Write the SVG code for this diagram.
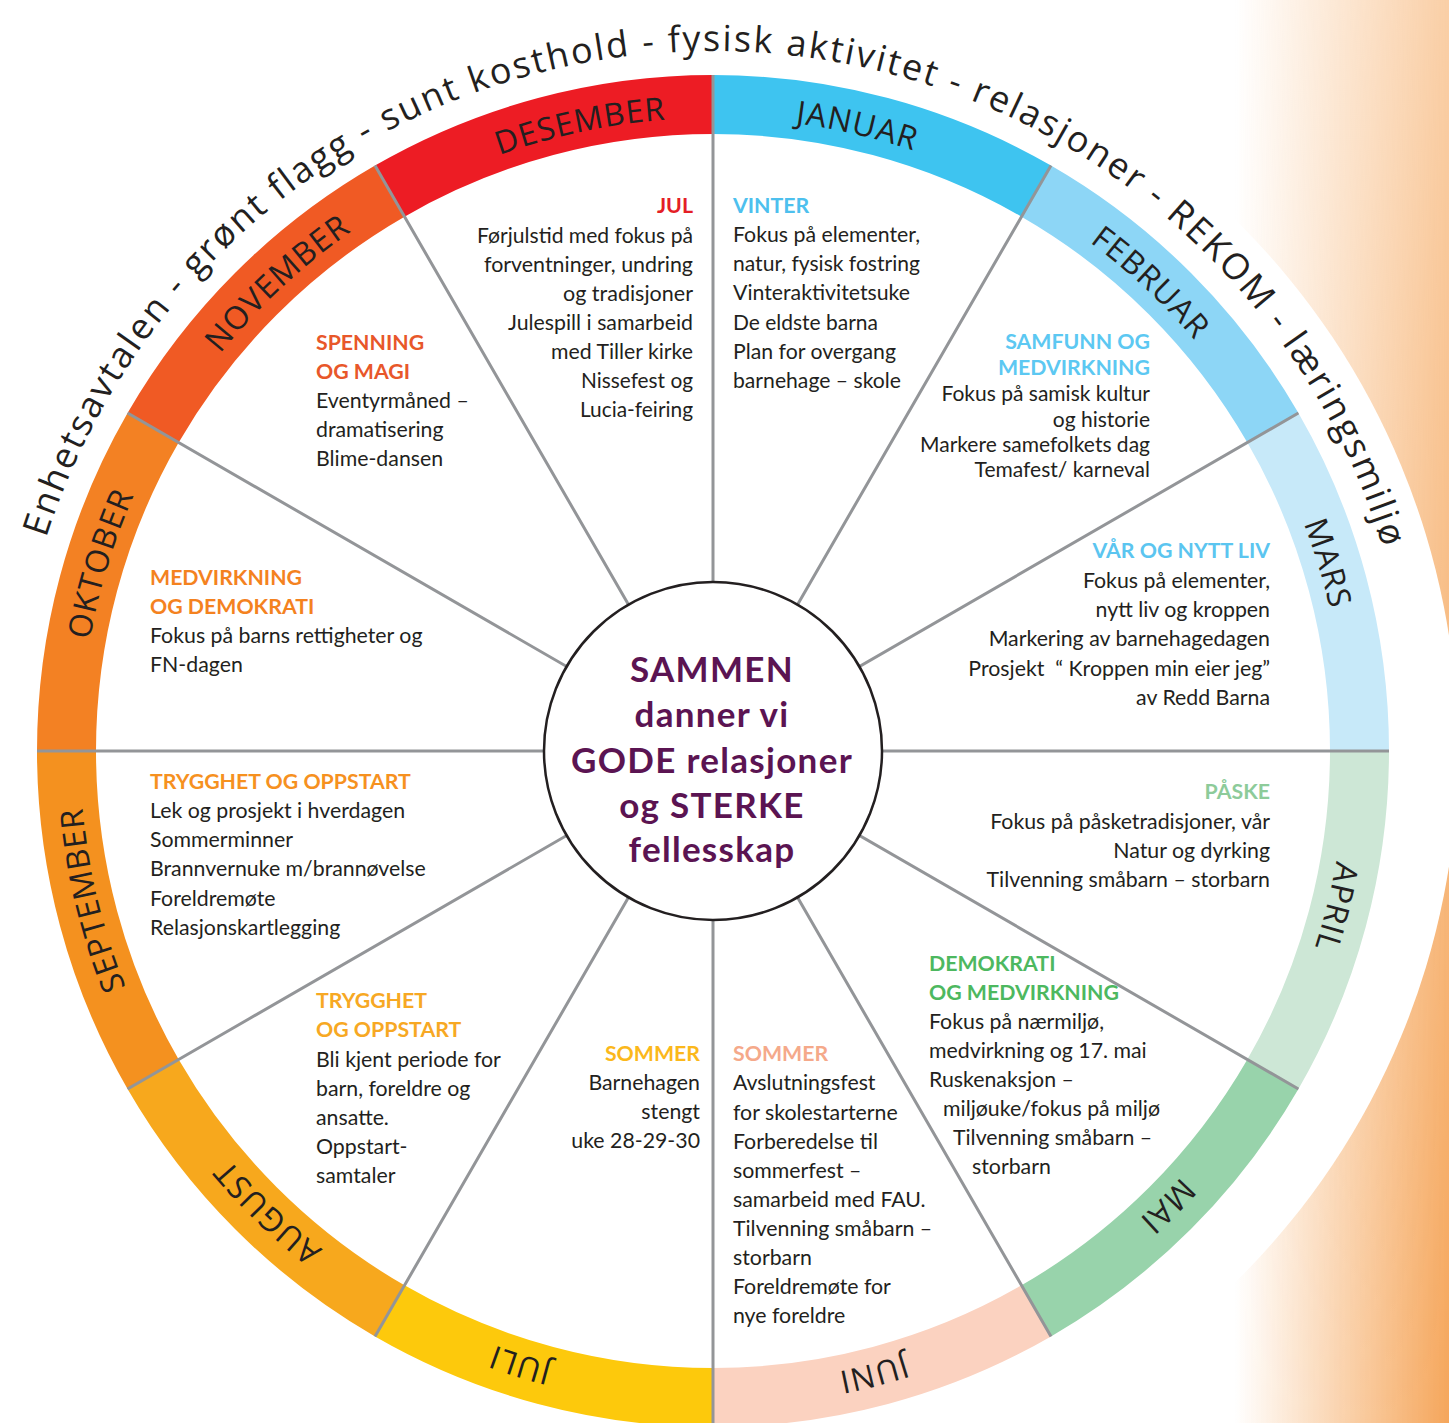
<svg xmlns="http://www.w3.org/2000/svg" width="1449" height="1423" viewBox="0 0 1449 1423">
<defs>
<linearGradient id="bgH" gradientUnits="userSpaceOnUse" x1="1235" y1="0" x2="1449" y2="0">
<stop offset="0" stop-color="#F5A65B" stop-opacity="0"/>
<stop offset="1" stop-color="#F5A65B"/>
</linearGradient>
<linearGradient id="bgV" gradientUnits="userSpaceOnUse" x1="0" y1="0" x2="0" y2="1423">
<stop offset="0" stop-color="#8a8a8a"/>
<stop offset="1" stop-color="#ffffff"/>
</linearGradient>
<mask id="bgM"><rect x="1200" y="0" width="249" height="1423" fill="url(#bgV)"/></mask>
<path id="arcTop" d="M 713 1451 A 700 700 0 1 1 713 51 A 700 700 0 1 1 713 1451"/>
<path id="arcMonth" d="M 713 1384 A 633 633 0 1 1 713 118 A 633 633 0 1 1 713 1384"/>
<style>
.t{font-family:Lato,"Open Sans",sans-serif;font-size:21.3px;fill:#231F20}
.s{font-size:21px}
.h{font-weight:700;font-size:21.3px}
.e{text-anchor:end}
.m{font-family:"Open Sans",sans-serif;font-size:32px;fill:#231F20;text-anchor:middle;letter-spacing:1px}
.top{font-family:"Open Sans",sans-serif;font-size:36px;fill:#231F20;letter-spacing:2.2px;text-anchor:middle}
.c{font-family:Lato,"Open Sans",sans-serif;font-weight:700;font-size:35px;fill:#5B1452;text-anchor:middle;letter-spacing:1.3px}
.div{stroke:#939598;stroke-width:3;fill:none}
</style>
</defs>
<rect width="1449" height="1423" fill="#fff"/>
<rect x="1200" y="0" width="249" height="1423" fill="url(#bgH)" mask="url(#bgM)"/>
<circle cx="713" cy="751" r="745" fill="#fff"/>

<text class="top"><textPath href="#arcTop" startOffset="2205">Enhetsavtalen - grønt flagg - sunt kosthold - fysisk aktivitet - relasjoner - REKOM - læringsmiljø</textPath></text>

<g id="seg-januar">
<path d="M713 75 A676 676 0 0 1 1051 165.57 L1021.5 216.66 A617 617 0 0 0 713 134 Z" fill="#3EC4F0"/>
<text class="m"><textPath href="#arcMonth" startOffset="2132">JANUAR</textPath></text>
<text class="t h" x="733" y="213" style="fill:#4DC0EE">VINTER</text>
<text class="t" x="733" y="242" textLength="187" lengthAdjust="spacingAndGlyphs">Fokus på elementer,</text>
<text class="t" x="733" y="271" textLength="187" lengthAdjust="spacingAndGlyphs">natur, fysisk fostring</text>
<text class="t" x="733" y="300" textLength="177" lengthAdjust="spacingAndGlyphs">Vinteraktivitetsuke</text>
<text class="t" x="733" y="330" textLength="145" lengthAdjust="spacingAndGlyphs">De eldste barna</text>
<text class="t" x="733" y="359" textLength="163" lengthAdjust="spacingAndGlyphs">Plan for overgang</text>
<text class="t" x="733" y="388" textLength="168" lengthAdjust="spacingAndGlyphs">barnehage – skole</text>
</g>

<g id="seg-februar">
<path d="M1051 165.57 A676 676 0 0 1 1298.43 413 L1247.34 442.5 A617 617 0 0 0 1021.5 216.66 Z" fill="#8DD6F6"/>
<text class="m"><textPath href="#arcMonth" startOffset="2464">FEBRUAR</textPath></text>
<text class="t h e s" x="1150" y="349" style="fill:#5CC8F2">SAMFUNN OG</text>
<text class="t h e s" x="1150" y="375" style="fill:#5CC8F2">MEDVIRKNING</text>
<text class="t e s" x="1150" y="401">Fokus på samisk kultur</text>
<text class="t e s" x="1150" y="427">og historie</text>
<text class="t e s" x="1150" y="452">Markere samefolkets dag</text>
<text class="t e s" x="1150" y="477">Temafest/ karneval</text>
</g>

<g id="seg-mars">
<path d="M1298.43 413 A676 676 0 0 1 1389 751 L1330 751 A617 617 0 0 0 1247.34 442.5 Z" fill="#C7E9F9"/>
<text class="m"><textPath href="#arcMonth" startOffset="2795">MARS</textPath></text>
<text class="t h e" x="1270" y="558" style="fill:#5BC5F0">VÅR OG NYTT LIV</text>
<text class="t e" x="1270" y="588">Fokus på elementer,</text>
<text class="t e" x="1270" y="617">nytt liv og kroppen</text>
<text class="t e" x="1270" y="646">Markering av barnehagedagen</text>
<text class="t e" x="1270" y="676">Prosjekt&#160; “ Kroppen min eier jeg”</text>
<text class="t e" x="1270" y="705">av Redd Barna</text>
</g>

<g id="seg-april">
<path d="M1389 751 A676 676 0 0 1 1298.43 1089 L1247.34 1059.5 A617 617 0 0 0 1330 751 Z" fill="#CDE7D6"/>
<text class="m"><textPath href="#arcMonth" startOffset="3138">APRIL</textPath></text>
<text class="t h e" x="1270" y="799" style="fill:#8DCB9A">PÅSKE</text>
<text class="t e" x="1270" y="829">Fokus på påsketradisjoner, vår</text>
<text class="t e" x="1270" y="858">Natur og dyrking</text>
<text class="t e" x="1270" y="887">Tilvenning småbarn – storbarn</text>
</g>

<g id="seg-mai">
<path d="M1298.43 1089 A676 676 0 0 1 1051 1336.43 L1021.5 1285.34 A617 617 0 0 0 1247.34 1059.5 Z" fill="#98D3AB"/>
<text class="m"><textPath href="#arcMonth" startOffset="3480">MAI</textPath></text>
<text class="t h" x="929" y="971" style="fill:#4DB85F">DEMOKRATI</text>
<text class="t h" x="929" y="1000" style="fill:#4DB85F">OG MEDVIRKNING</text>
<text class="t" x="929" y="1029">Fokus på nærmiljø,</text>
<text class="t" x="929" y="1058">medvirkning og 17. mai</text>
<text class="t" x="929" y="1087">Ruskenaksjon –</text>
<text class="t" x="943" y="1116">miljøuke/fokus på miljø</text>
<text class="t" x="953" y="1145">Tilvenning småbarn –</text>
<text class="t" x="972" y="1174">storbarn</text>
</g>

<g id="seg-juni">
<path d="M1051 1336.43 A676 676 0 0 1 713 1427 L713 1368 A617 617 0 0 0 1021.5 1285.34 Z" fill="#FBD2C0"/>
<text class="m"><textPath href="#arcMonth" startOffset="3817">JUNI</textPath></text>
<text class="t h" x="733" y="1061" style="fill:#F5A98A">SOMMER</text>
<text class="t" x="733" y="1090">Avslutningsfest</text>
<text class="t" x="733" y="1120">for skolestarterne</text>
<text class="t" x="733" y="1149">Forberedelse til</text>
<text class="t" x="733" y="1178">sommerfest –</text>
<text class="t" x="733" y="1207">samarbeid med FAU.</text>
<text class="t" x="733" y="1236">Tilvenning småbarn –</text>
<text class="t" x="733" y="1265">storbarn</text>
<text class="t" x="733" y="1294">Foreldremøte for</text>
<text class="t" x="733" y="1323">nye foreldre</text>
</g>

<g id="seg-juli">
<path d="M713 1427 A676 676 0 0 1 375 1336.43 L404.5 1285.34 A617 617 0 0 0 713 1368 Z" fill="#FDC90C"/>
<text class="m"><textPath href="#arcMonth" startOffset="193">JULI</textPath></text>
<text class="t h e" x="700" y="1061" style="fill:#FBB81B">SOMMER</text>
<text class="t e" x="700" y="1090">Barnehagen</text>
<text class="t e" x="700" y="1119">stengt</text>
<text class="t e" x="700" y="1148">uke 28-29-30</text>
</g>

<g id="seg-august">
<path d="M375 1336.43 A676 676 0 0 1 127.57 1089 L178.66 1059.5 A617 617 0 0 0 404.5 1285.34 Z" fill="#F7A81D"/>
<text class="m"><textPath href="#arcMonth" startOffset="486">AUGUST</textPath></text>
<text class="t h" x="316" y="1008" style="fill:#F7A823">TRYGGHET</text>
<text class="t h" x="316" y="1037" style="fill:#F7A823">OG OPPSTART</text>
<text class="t" x="316" y="1067">Bli kjent periode for</text>
<text class="t" x="316" y="1096">barn, foreldre og</text>
<text class="t" x="316" y="1125">ansatte.</text>
<text class="t" x="316" y="1154">Oppstart-</text>
<text class="t" x="316" y="1183">samtaler</text>
</g>

<g id="seg-september">
<path d="M127.57 1089 A676 676 0 0 1 37 751 L96 751 A617 617 0 0 0 178.66 1059.5 Z" fill="#F4911F"/>
<text class="m"><textPath href="#arcMonth" startOffset="845">SEPTEMBER</textPath></text>
<text class="t h" x="150" y="789" style="fill:#F6911F">TRYGGHET OG OPPSTART</text>
<text class="t" x="150" y="818">Lek og prosjekt i hverdagen</text>
<text class="t" x="150" y="847">Sommerminner</text>
<text class="t" x="150" y="876">Brannvernuke m/brannøvelse</text>
<text class="t" x="150" y="906">Foreldremøte</text>
<text class="t" x="150" y="935">Relasjonskartlegging</text>
</g>

<g id="seg-oktober">
<path d="M37 751 A676 676 0 0 1 127.57 413 L178.66 442.5 A617 617 0 0 0 96 751 Z" fill="#F38123"/>
<text class="m"><textPath href="#arcMonth" startOffset="1182">OKTOBER</textPath></text>
<text class="t h" x="150" y="585" style="fill:#F4821F">MEDVIRKNING</text>
<text class="t h" x="150" y="614" style="fill:#F4821F">OG DEMOKRATI</text>
<text class="t" x="150" y="643">Fokus på barns rettigheter og</text>
<text class="t" x="150" y="672">FN-dagen</text>
</g>

<g id="seg-november">
<path d="M127.57 413 A676 676 0 0 1 375 165.57 L404.5 216.66 A617 617 0 0 0 178.66 442.5 Z" fill="#F05A24"/>
<text class="m"><textPath href="#arcMonth" startOffset="1514">NOVEMBER</textPath></text>
<text class="t h" x="316" y="350" style="fill:#E8572A">SPENNING</text>
<text class="t h" x="316" y="379" style="fill:#E8572A">OG MAGI</text>
<text class="t" x="316" y="408">Eventyrmåned –</text>
<text class="t" x="316" y="437">dramatisering</text>
<text class="t" x="316" y="466">Blime-dansen</text>
</g>

<g id="seg-desember">
<path d="M375 165.57 A676 676 0 0 1 713 75 L713 134 A617 617 0 0 0 404.5 216.66 Z" fill="#ED1C24"/>
<text class="m"><textPath href="#arcMonth" startOffset="1856">DESEMBER</textPath></text>
<text class="t h e" x="693" y="213" style="fill:#E41E26">JUL</text>
<text class="t e" x="693" y="243" textLength="216" lengthAdjust="spacingAndGlyphs">Førjulstid med fokus på</text>
<text class="t e" x="693" y="272" textLength="209" lengthAdjust="spacingAndGlyphs">forventninger, undring</text>
<text class="t e" x="693" y="301" textLength="130" lengthAdjust="spacingAndGlyphs">og tradisjoner</text>
<text class="t e" x="693" y="330" textLength="185" lengthAdjust="spacingAndGlyphs">Julespill i samarbeid</text>
<text class="t e" x="693" y="359" textLength="142" lengthAdjust="spacingAndGlyphs">med Tiller kirke</text>
<text class="t e" x="693" y="388" textLength="112" lengthAdjust="spacingAndGlyphs">Nissefest og</text>
<text class="t e" x="693" y="417" textLength="113" lengthAdjust="spacingAndGlyphs">Lucia-feiring</text>
</g>

<g id="connectors">
<path class="div" d="M713 751 L713 75 M713 751 L1051 165.57 M713 751 L1298.43 413 M713 751 L1389 751 M713 751 L1298.43 1089 M713 751 L1051 1336.43 M713 751 L713 1427 M713 751 L375 1336.43 M713 751 L127.57 1089 M713 751 L37 751 M713 751 L127.57 413 M713 751 L375 165.57"/>
</g>

<g id="center">
<circle cx="713" cy="751" r="169" fill="#fff" stroke="#231F20" stroke-width="2.5"/>
<text class="c" x="712" y="682">SAMMEN</text>
<text class="c" x="712" y="727">danner vi</text>
<text class="c" x="712" y="773">GODE relasjoner</text>
<text class="c" x="712" y="818">og STERKE</text>
<text class="c" x="712" y="862">fellesskap</text>
</g>
</svg>
